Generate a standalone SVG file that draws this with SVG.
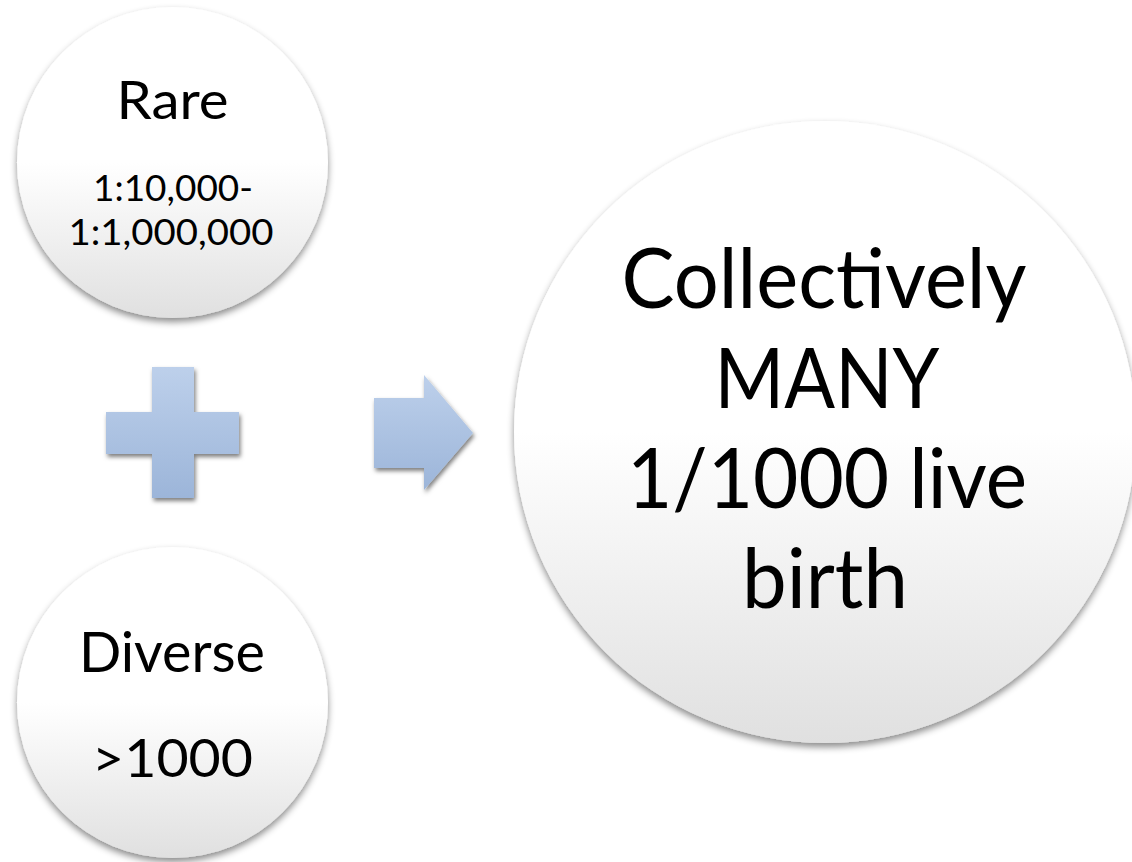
<svg xmlns="http://www.w3.org/2000/svg" width="1132" height="862" viewBox="0 0 1132 862">
  <defs>
    <linearGradient id="circleGrad" x1="0" y1="0" x2="0" y2="1">
      <stop offset="0" stop-color="#ffffff"/>
      <stop offset="0.5" stop-color="#ffffff"/>
      <stop offset="1" stop-color="#e0e0e0"/>
    </linearGradient>
    <linearGradient id="blueGrad" x1="0" y1="0" x2="0" y2="1">
      <stop offset="0" stop-color="#bdd0eb"/>
      <stop offset="1" stop-color="#9cb5d9"/>
    </linearGradient>
    <filter id="circleShadow" x="-20%" y="-20%" width="140%" height="140%">
      <feDropShadow dx="0" dy="4" stdDeviation="3.5" flood-color="#000000" flood-opacity="0.45"/>
    </filter>
    <filter id="shapeShadow" x="-20%" y="-20%" width="140%" height="140%">
      <feDropShadow dx="1.5" dy="3" stdDeviation="2" flood-color="#000000" flood-opacity="0.5"/>
    </filter>
  </defs>
  <style>
    .circle { fill: url(#circleGrad); filter: url(#circleShadow); }
    .shape { fill: url(#blueGrad); filter: url(#shapeShadow); }
    .t { font-family: Lato, "Liberation Sans", sans-serif; fill: #000000; text-anchor: middle; }
  </style>
  <rect width="1132" height="862" fill="#ffffff"/>

  <g id="node-rare">
    <circle class="circle" cx="172.5" cy="162.5" r="155.5"/>
    <text class="t" x="172.5" y="119" font-size="52" textLength="112" lengthAdjust="spacingAndGlyphs">Rare</text>
    <text class="t" x="173" y="201" font-size="36" textLength="160" lengthAdjust="spacingAndGlyphs">1:10,000-</text>
    <text class="t" x="171" y="245" font-size="36" textLength="205" lengthAdjust="spacingAndGlyphs">1:1,000,000</text>
  </g>

  <g id="node-diverse">
    <circle class="circle" cx="172.5" cy="702.5" r="155.5"/>
    <text class="t" x="172" y="672" font-size="56" textLength="186" lengthAdjust="spacingAndGlyphs">Diverse</text>
    <text class="t" x="172.5" y="777" font-size="52" textLength="161" lengthAdjust="spacingAndGlyphs">&gt;1000</text>
  </g>

  <g id="node-plus">
    <path class="shape" d="M152,367 H194 V412 H239 V454 H194 V498 H152 V454 H106 V412 H152 Z"/>
  </g>

  <g id="connectors">
    <path class="shape" d="M374,398 H424 V375 L473,433 L424,490 V468 H374 Z"/>
  </g>

  <g id="node-collectively">
    <circle class="circle" cx="825" cy="432" r="311"/>
    <text class="t" x="824" y="308" font-size="83" textLength="405" lengthAdjust="spacingAndGlyphs">Collectively</text>
    <text class="t" x="827" y="408" font-size="83" textLength="225" lengthAdjust="spacingAndGlyphs">MANY</text>
    <text class="t" x="827" y="508" font-size="83" textLength="400" lengthAdjust="spacingAndGlyphs">1/1000 live</text>
    <text class="t" x="825" y="608" font-size="83" textLength="166" lengthAdjust="spacingAndGlyphs">birth</text>
  </g>
</svg>
